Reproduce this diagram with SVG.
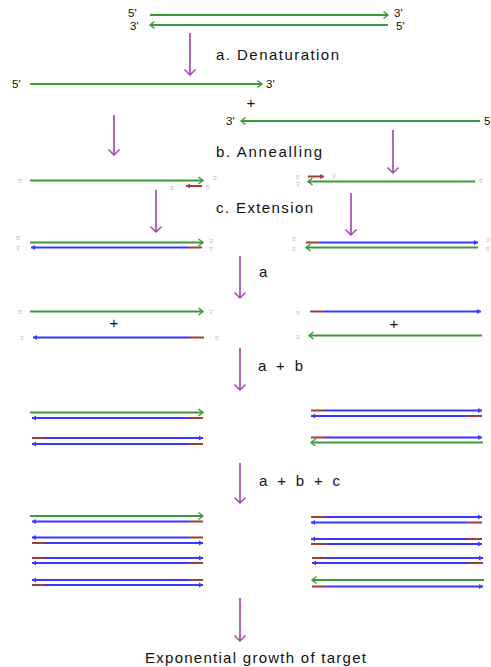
<svg xmlns="http://www.w3.org/2000/svg" width="491" height="667" viewBox="0 0 491 667">
<style>
text{font-family:"Liberation Sans",Arial,sans-serif;fill:#111}
.end{font-size:11.5px}
.lab{font-size:15px}
.sm{font-size:6px;fill:#bbb}
.g{stroke:#3a9a3a;stroke-width:2;fill:none}
.b{stroke:#3838ff;stroke-width:2;fill:none}
.r{stroke:#a03c3c;stroke-width:2;fill:none}
.p{stroke:#a040a8;stroke-width:1.6;fill:none}
.ga{marker-end:url(#mg)}
.ba{marker-end:url(#mb)}
.ra{marker-end:url(#mr)}
.pa{marker-end:url(#mp)}
</style>
<defs>
<marker id="mg" markerUnits="userSpaceOnUse" markerWidth="8" markerHeight="8" refX="5.5" refY="4" orient="auto" overflow="visible"><path d="M1,0.5 L5.5,4 L1,7.5" fill="none" stroke="#3a9a3a" stroke-width="1.4"/></marker>
<marker id="mb" markerUnits="userSpaceOnUse" markerWidth="6" markerHeight="6" refX="4" refY="3" orient="auto" overflow="visible"><path d="M0,0.5 L4,3 L0,5.5 z" fill="#3838ff"/></marker>
<marker id="mr" markerUnits="userSpaceOnUse" markerWidth="6" markerHeight="6" refX="4" refY="3" orient="auto" overflow="visible"><path d="M0,0.5 L4,3 L0,5.5 z" fill="#a03c3c"/></marker>
<marker id="mp" markerUnits="userSpaceOnUse" markerWidth="12" markerHeight="12" refX="6" refY="6" orient="auto" overflow="visible"><path d="M0.5,0.5 L6,6 L0.5,11.5" fill="none" stroke="#a040a8" stroke-width="1.4"/></marker>
</defs>

<g id="connectors">
<line class="p pa" x1="190" y1="33" x2="190" y2="75"/>
<line class="p pa" x1="114" y1="115" x2="114" y2="155"/>
<line class="p pa" x1="393" y1="130" x2="393" y2="173"/>
<line class="p pa" x1="156" y1="190" x2="156" y2="232"/>
<line class="p pa" x1="351" y1="193" x2="351" y2="235"/>
<line class="p pa" x1="240" y1="256" x2="240" y2="298"/>
<line class="p pa" x1="240" y1="348" x2="240" y2="390"/>
<line class="p pa" x1="240" y1="463" x2="240" y2="503"/>
<line class="p pa" x1="240" y1="598" x2="240" y2="641"/>
</g>

<g id="labels">
<text class="lab" x="216" y="60" textLength="123" lengthAdjust="spacing">a.  Denaturation</text>
<text class="lab" x="216" y="157" textLength="106" lengthAdjust="spacing">b.  Annealling</text>
<text class="lab" x="216" y="213" textLength="97" lengthAdjust="spacing">c.  Extension</text>
<text class="lab" x="259" y="277">a</text>
<text class="lab" x="258" y="371" textLength="45" lengthAdjust="spacing">a + b</text>
<text class="lab" x="259" y="486" textLength="81" lengthAdjust="spacing">a + b + c</text>
<text class="lab" x="145" y="663" textLength="221" lengthAdjust="spacing">Exponential growth of target</text>
</g>

<g id="template">
<text class="end" x="128" y="17">5'</text>
<line class="g ga" x1="150" y1="15" x2="388" y2="15"/>
<text class="end" x="394" y="17">3'</text>
<text class="end" x="130" y="30">3'</text>
<line class="g ga" x1="388" y1="25" x2="150" y2="25"/>
<text class="end" x="396" y="30">5'</text>
</g>

<g id="denatured">
<text class="end" x="12" y="88">5'</text>
<line class="g ga" x1="30" y1="84" x2="262" y2="84"/>
<text class="end" x="266" y="88">3'</text>
<text class="lab" x="251" y="108" text-anchor="middle">+</text>
<text class="end" x="226" y="125">3'</text>
<line class="g ga" x1="480" y1="121" x2="241" y2="121"/>
<text class="end" x="484" y="125">5'</text>
</g>

<g id="annealed-left">
<text class="sm" x="18" y="183">5'</text>
<line class="g ga" x1="30" y1="180.5" x2="203" y2="180.5"/>
<text class="sm" x="213" y="180">3'</text>
<line class="r ra" x1="202" y1="186" x2="186" y2="186"/>
<text class="sm" x="170" y="190">3'</text>
<text class="sm" x="206" y="189">5'</text>
</g>
<g id="annealed-right">
<text class="sm" x="296" y="179">5'</text>
<line class="r ra" x1="308" y1="176.5" x2="324" y2="176.5"/>
<text class="sm" x="332" y="178">3'</text>
<text class="sm" x="296" y="186">3'</text>
<line class="g ga" x1="475" y1="181.5" x2="308" y2="181.5"/>
<text class="sm" x="479" y="183">5'</text>
</g>

<g id="extended-left">
<text class="sm" x="16" y="240">5'</text>
<text class="sm" x="16" y="250">3'</text>
<line class="g ga" x1="30" y1="242.5" x2="203" y2="242.5"/>
<line class="r" x1="188" y1="247.5" x2="202" y2="247.5"/>
<line class="b ba" x1="188" y1="247.5" x2="31" y2="247.5"/>
<text class="sm" x="209" y="243">3'</text>
<text class="sm" x="209" y="251">5'</text>
</g>
<g id="extended-right">
<text class="sm" x="292" y="241">5'</text>
<text class="sm" x="292" y="251">3'</text>
<line class="r" x1="306" y1="242.5" x2="319" y2="242.5"/>
<line class="b ba" x1="319" y1="242.5" x2="478" y2="242.5"/>
<line class="g ga" x1="478" y1="247.5" x2="306" y2="247.5"/>
<text class="sm" x="486" y="242">3'</text>
<text class="sm" x="486" y="251">5'</text>
</g>

<g id="cycle1-left">
<text class="sm" x="18" y="314">5'</text>
<line class="g ga" x1="30" y1="311.5" x2="203" y2="311.5"/>
<text class="sm" x="209" y="314">3'</text>
<text class="lab" x="114" y="328" text-anchor="middle">+</text>
<text class="sm" x="20" y="340">3'</text>
<line class="r" x1="190" y1="337.5" x2="204" y2="337.5"/>
<line class="b ba" x1="190" y1="337.5" x2="33" y2="337.5"/>
<text class="sm" x="215" y="340">5'</text>
</g>
<g id="cycle1-right">
<text class="sm" x="296" y="315">5'</text>
<line class="r" x1="310" y1="311.5" x2="323" y2="311.5"/>
<line class="b ba" x1="323" y1="311.5" x2="481" y2="311.5"/>
<text class="lab" x="394" y="329" text-anchor="middle">+</text>
<text class="sm" x="296" y="339">3'</text>
<line class="g ga" x1="482" y1="335.5" x2="309" y2="335.5"/>
</g>

<g id="cycle2-left">
<line class="g ga" x1="30" y1="412.5" x2="203" y2="412.5"/>
<line class="r" x1="190" y1="418" x2="203" y2="418"/>
<line class="b ba" x1="190" y1="418" x2="32" y2="418"/>
<line class="r" x1="32" y1="438" x2="45" y2="438"/>
<line class="b ba" x1="45" y1="438" x2="203" y2="438"/>
<line class="r" x1="190" y1="444" x2="203" y2="444"/>
<line class="b ba" x1="190" y1="444" x2="32" y2="444"/>
</g>
<g id="cycle2-right">
<line class="r" x1="311" y1="410.5" x2="325" y2="410.5"/>
<line class="b ba" x1="325" y1="410.5" x2="482" y2="410.5"/>
<line class="r" x1="468" y1="416" x2="482" y2="416"/>
<line class="b ba" x1="468" y1="416" x2="311" y2="416"/>
<line class="r" x1="311" y1="437.5" x2="325" y2="437.5"/>
<line class="b ba" x1="325" y1="437.5" x2="482" y2="437.5"/>
<line class="g ga" x1="483" y1="442.5" x2="311" y2="442.5"/>
</g>

<g id="cycle3-left">
<line class="g ga" x1="30" y1="516" x2="203" y2="516"/>
<line class="r" x1="190" y1="521.5" x2="203" y2="521.5"/>
<line class="b ba" x1="190" y1="521.5" x2="32" y2="521.5"/>
<line class="r" x1="190" y1="537.5" x2="203" y2="537.5"/>
<line class="b ba" x1="190" y1="537.5" x2="32" y2="537.5"/>
<line class="r" x1="32" y1="543" x2="45" y2="543"/>
<line class="b ba" x1="45" y1="543" x2="203" y2="543"/>
<line class="r" x1="32" y1="558" x2="45" y2="558"/>
<line class="b ba" x1="45" y1="558" x2="203" y2="558"/>
<line class="r" x1="190" y1="563" x2="203" y2="563"/>
<line class="b ba" x1="190" y1="563" x2="32" y2="563"/>
<line class="r" x1="190" y1="580" x2="203" y2="580"/>
<line class="b ba" x1="190" y1="580" x2="32" y2="580"/>
<line class="r" x1="32" y1="585" x2="45" y2="585"/>
<line class="b ba" x1="45" y1="585" x2="203" y2="585"/>
</g>
<g id="cycle3-right">
<line class="r" x1="311" y1="517" x2="325" y2="517"/>
<line class="b ba" x1="325" y1="517" x2="482" y2="517"/>
<line class="r" x1="468" y1="522.5" x2="482" y2="522.5"/>
<line class="b ba" x1="468" y1="522.5" x2="311" y2="522.5"/>
<line class="r" x1="468" y1="539" x2="482" y2="539"/>
<line class="b ba" x1="468" y1="539" x2="311" y2="539"/>
<line class="r" x1="311" y1="544" x2="325" y2="544"/>
<line class="b ba" x1="325" y1="544" x2="482" y2="544"/>
<line class="r" x1="312" y1="558" x2="326" y2="558"/>
<line class="b ba" x1="326" y1="558" x2="483" y2="558"/>
<line class="r" x1="469" y1="563" x2="483" y2="563"/>
<line class="b ba" x1="469" y1="563" x2="312" y2="563"/>
<line class="g ga" x1="484" y1="580" x2="312" y2="580"/>
<line class="r" x1="312" y1="586.5" x2="326" y2="586.5"/>
<line class="b ba" x1="326" y1="586.5" x2="483" y2="586.5"/>
</g>
</svg>
